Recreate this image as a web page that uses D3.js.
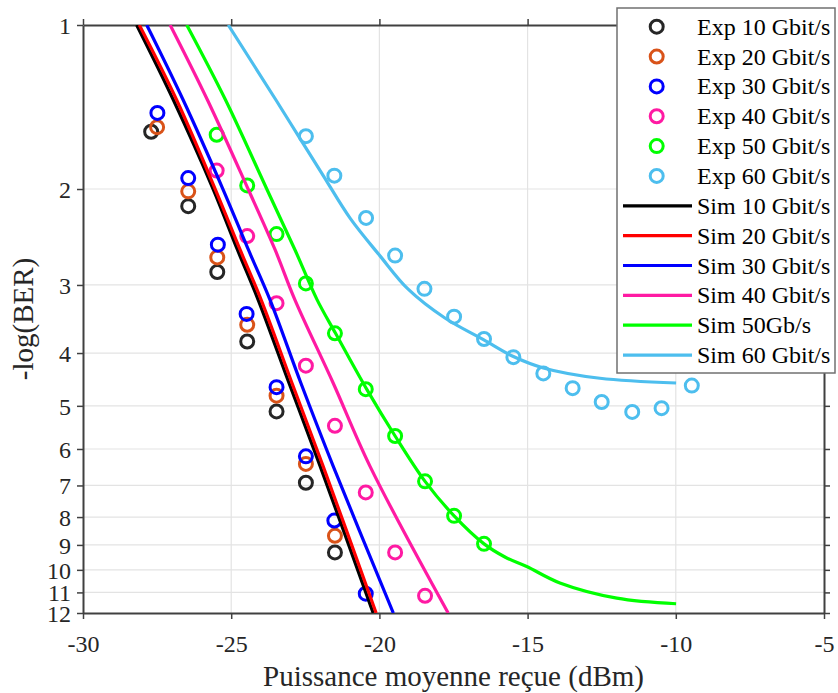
<!DOCTYPE html>
<html>
<head>
<meta charset="utf-8">
<script src="https://cdn.jsdelivr.net/npm/d3@7"></script>
<style>
  html, body { margin: 0; padding: 0; background: #fff; }
  svg { display: block; }
  text { font-family: "Liberation Serif", "Times New Roman", serif; }
</style>
</head>
<body>
<svg id="chart" width="838" height="693"></svg>
<script>
// ---------- data ----------
const xTicks = [-30, -25, -20, -15, -10, -5];
const yTicks = [1, 2, 3, 4, 5, 6, 7, 8, 9, 10, 11, 12];

const expPower10 = [-27.7, -26.45, -25.47, -24.46, -23.47, -22.48, -21.5];
const expBer10   = [1.57, 2.15, 2.84, 3.81, 5.12, 6.92, 9.29];
const expPower20 = [-27.5, -26.45, -25.47, -24.46, -23.47, -22.48, -21.5];
const expBer20   = [1.54, 2.02, 2.67, 3.55, 4.79, 6.39, 8.66];
const expPower30 = [-27.49, -26.45, -25.45, -24.48, -23.47, -22.48, -21.52, -20.46];
const expBer30   = [1.45, 1.91, 2.53, 3.39, 4.62, 6.19, 8.12, 11.06];
const expPower40 = [-25.49, -24.46, -23.47, -22.48, -21.5, -20.46, -19.47, -18.46];
const expBer40   = [1.85, 2.44, 3.24, 4.22, 5.44, 7.21, 9.29, 11.16];
const expPower50 = [-25.49, -24.46, -23.47, -22.48, -21.5, -20.46, -19.47, -18.46, -17.48, -16.47];
const expBer50   = [1.59, 1.97, 2.42, 2.98, 3.68, 4.66, 5.68, 6.88, 7.96, 8.96];
const expPower60 = [-22.48, -21.52, -20.45, -19.47, -18.48, -17.48, -16.47, -15.48, -14.47, -13.48, -12.5, -11.47, -10.48, -9.46];
const expBer60   = [1.60, 1.89, 2.26, 2.65, 3.05, 3.43, 3.77, 4.07, 4.36, 4.64, 4.92, 5.13, 5.05, 4.59];

const simPower10 = [-28.19, -26.95, -25.61, -24.79, -24.09, -23.05, -22.0, -20.21];
const simBer10   = [1.0, 1.373, 2.0, 2.585, 3.195, 4.54, 6.45, 12.0];
const simPower20 = [-28.10, -26.84, -25.54, -24.70, -23.99, -22.95, -21.90, -20.11];
const simBer20   = [1.0, 1.373, 2.0, 2.585, 3.195, 4.54, 6.45, 12.0];
const simPower30 = [-27.85, -26.62, -25.28, -24.42, -23.69, -22.65, -21.56, -19.53];
const simBer30   = [1.0, 1.373, 2.0, 2.585, 3.195, 4.54, 6.45, 12.0];
const simPower40 = [-27.06, -25.80, -24.43, -23.52, -22.85, -21.56, -20.32, -17.68];
const simBer40   = [1.0, 1.373, 2.0, 2.585, 3.195, 4.54, 6.45, 12.0];
const simPower50 = [-26.50, -25.19, -23.80, -22.85, -22.10, -21.48, -20.43, -19.47, -18.46, -17.48, -16.47, -15.75, -15.03, -13.91, -11.99, -9.99];
const simBer50   = [1.0, 1.373, 2.0, 2.585, 3.195, 3.68, 4.66, 5.68, 6.88, 7.96, 8.96, 9.48, 9.86, 10.57, 11.27, 11.54];
const simPower60 = [-25.10, -23.49, -22.74, -21.89, -20.99, -19.98, -19.03, -17.79, -16.49, -15.48, -14.47, -12.56, -9.99];
const simBer60   = [1.0, 1.373, 1.596, 1.892, 2.262, 2.653, 3.054, 3.45, 3.78, 4.06, 4.26, 4.45, 4.54];

const expLabels = ["Exp 10 Gbit/s", "Exp 20 Gbit/s", "Exp 30 Gbit/s", "Exp 40 Gbit/s", "Exp 50 Gbit/s", "Exp 60 Gbit/s"];
const simLabels = ["Sim 10 Gbit/s", "Sim 20 Gbit/s", "Sim 30 Gbit/s", "Sim 40 Gbit/s", "Sim 50Gb/s", "Sim 60 Gbit/s"];
const expColors = ["#262626", "#D95319", "#0000FF", "#FF1AA3", "#00FF00", "#4DBEEE"];
const simColors = ["#000000", "#FF0000", "#0000FF", "#FF1AA3", "#00FF00", "#4DBEEE"];

const expSeries = [
  [expPower10, expBer10], [expPower20, expBer20], [expPower30, expBer30],
  [expPower40, expBer40], [expPower50, expBer50], [expPower60, expBer60]
];
const simSeries = [
  [simPower10, simBer10], [simPower20, simBer20], [simPower30, simBer30],
  [simPower40, simBer40], [simPower50, simBer50], [simPower60, simBer60]
];

// ---------- layout ----------
const L = 83, R = 824, T = 25, B = 613;
const svg = d3.select("#chart");
const x = d3.scaleLinear().domain([-30, -5]).range([L, R]);
const y = d3.scaleLog().domain([1, 12]).range([T, B]);
const fmt = d => String(d);

svg.append("defs").append("clipPath").attr("id", "clip")
  .append("rect").attr("x", L).attr("y", T).attr("width", R - L).attr("height", B - T);

// grid
const grid = svg.append("g");
grid.selectAll(".gx").data(xTicks.slice(1, -1)).join("line")
  .attr("x1", d => x(d)).attr("x2", d => x(d)).attr("y1", T).attr("y2", B)
  .attr("stroke", "#e3e3e3").attr("stroke-width", 1.2);
grid.selectAll(".gy").data(yTicks.slice(1, -1)).join("line")
  .attr("x1", L).attr("x2", R).attr("y1", d => y(d)).attr("y2", d => y(d))
  .attr("stroke", "#e3e3e3").attr("stroke-width", 1.2);

// axes
const axisColor = "#404040";
const xAxis = svg.append("g").attr("transform", `translate(0,${B})`)
  .call(d3.axisBottom(x).tickValues(xTicks).tickSize(6).tickSizeOuter(0).tickPadding(16).tickFormat(fmt));
const yAxis = svg.append("g").attr("transform", `translate(${L},0)`)
  .call(d3.axisLeft(y).tickValues(yTicks).tickSize(6).tickSizeOuter(0).tickPadding(6).tickFormat(fmt));
const xTop = svg.append("g").attr("transform", `translate(0,${T})`)
  .call(d3.axisTop(x).tickValues(xTicks).tickSize(6).tickSizeOuter(0).tickFormat(""));
const yRight = svg.append("g").attr("transform", `translate(${R},0)`)
  .call(d3.axisLeft(y).tickValues(yTicks).tickSize(-6).tickSizeOuter(0).tickFormat(""));
[xAxis, yAxis, xTop, yRight].forEach(g => {
  g.select(".domain").attr("stroke", axisColor).attr("stroke-width", 2);
  g.selectAll(".tick line").attr("stroke", axisColor).attr("stroke-width", 1.5);
  g.selectAll(".tick text").attr("fill", "#262626").style("font-size", "24px")
    .style("font-family", "'Liberation Serif', serif");
});
xAxis.selectAll(".tick text").attr("dy", "0.71em");
yAxis.selectAll(".tick text").attr("dy", "0.35em");

// axis titles
svg.append("text").attr("x", (L + R) / 2).attr("y", 686).attr("text-anchor", "middle")
  .attr("fill", "#262626").style("font-size", "29px").text("Puissance moyenne reçue (dBm)");
svg.append("text").attr("transform", `translate(33,${(T + B) / 2}) rotate(-90)`)
  .attr("text-anchor", "middle").attr("fill", "#262626").style("font-size", "29px").text("-log(BER)");

// data
const plot = svg.append("g").attr("clip-path", "url(#clip)");
expSeries.forEach((s, i) => {
  const pts = s[0].map((p, j) => [p, s[1][j]]);
  plot.append("g").selectAll("circle").data(pts).join("circle")
    .attr("cx", d => x(d[0])).attr("cy", d => y(d[1])).attr("r", 6.5)
    .attr("fill", "none").attr("stroke", expColors[i]).attr("stroke-width", 3);
});
const line = d3.line().x(d => x(d[0])).y(d => y(d[1])).curve(d3.curveCatmullRom.alpha(0.5));
simSeries.forEach((s, i) => {
  const pts = s[0].map((p, j) => [p, s[1][j]]);
  plot.append("path").datum(pts).attr("d", line)
    .attr("fill", "none").attr("stroke", simColors[i]).attr("stroke-width", 3.2);
});

// legend
const lg = svg.append("g");
lg.append("rect").attr("x", 617).attr("y", 8).attr("width", 218).attr("height", 365)
  .attr("fill", "#fff").attr("stroke", "#707070").attr("stroke-width", 1.5);
const rowY = i => 26.7 + i * 29.85;
expLabels.forEach((lab, i) => {
  lg.append("circle").attr("cx", 656.7).attr("cy", rowY(i)).attr("r", 6.5)
    .attr("fill", "none").attr("stroke", expColors[i]).attr("stroke-width", 3);
  lg.append("text").attr("x", 697).attr("y", rowY(i) + 8).attr("fill", "#000")
    .style("font-size", "24px").text(lab);
});
simLabels.forEach((lab, k) => {
  const i = k + 6;
  lg.append("line").attr("x1", 623).attr("x2", 692).attr("y1", rowY(i)).attr("y2", rowY(i))
    .attr("stroke", simColors[k]).attr("stroke-width", 3.2);
  lg.append("text").attr("x", 697).attr("y", rowY(i) + 8).attr("fill", "#000")
    .style("font-size", "24px").text(lab);
});
</script>
</body>
</html>
